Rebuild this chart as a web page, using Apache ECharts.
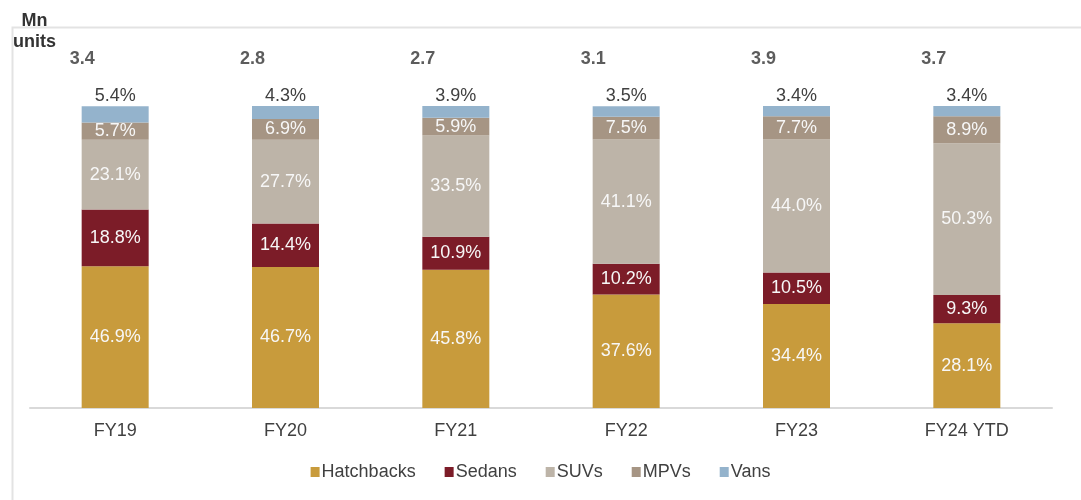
<!DOCTYPE html>
<html>
<head>
<meta charset="utf-8">
<script src="https://cdn.jsdelivr.net/npm/echarts@6/dist/echarts.min.js"></script>
<style>
    html, body { margin: 0; padding: 0; background: #fff; }
    #container { width: 1081px; height: 500px; }
</style>
</head>
<body>
<div id="container"></div>
<script>
var categories = ['FY19', 'FY20', 'FY21', 'FY22', 'FY23', 'FY24 YTD'];
var hatchbacks = [46.9, 46.7, 45.8, 37.6, 34.4, 28.1];
var sedans = [18.8, 14.4, 10.9, 10.2, 10.5, 9.3];
var suvs = [23.1, 27.7, 33.5, 41.1, 44.0, 50.3];
var mpvs = [5.7, 6.9, 5.9, 7.5, 7.7, 8.9];
var vans = [5.4, 4.3, 3.9, 3.5, 3.4, 3.4];
var totals = [3.4, 2.8, 2.7, 3.1, 3.9, 3.7];
var totalLabelLevel = 115.5;

var FONT = 'Liberation Sans, Arial, sans-serif';
var myChart = echarts.init(document.getElementById('container'));

function segment(name, data, color, top) {
    return {
        name: name,
        type: 'bar',
        stack: 'share',
        barWidth: 67,
        data: data,
        itemStyle: { color: color },
        label: {
            show: true,
            position: top ? 'top' : 'inside',
            distance: 1,
            color: top ? '#404040' : '#f7f7f7',
            fontSize: 18,
            fontFamily: FONT,
            formatter: function (p) { return p.value.toFixed(1) + '%'; }
        }
    };
}

var option = {
    animation: false,
    graphic: [
        {
            type: 'rect',
            left: 10, top: 25,
            shape: { width: 1100, height: 520 },
            style: { fill: 'none', stroke: '#e3e3e3', lineWidth: 2 },
            silent: true
        },
        {
            type: 'text',
            left: 13, top: 11,
            style: {
                text: 'Mn\nunits',
                textAlign: 'center',
                x: 23,
                fill: '#333',
                font: 'bold 18px ' + FONT,
                lineHeight: 21
            }
        }
    ],
    legend: {
        bottom: 14,
        left: 'center',
        itemWidth: 9,
        itemHeight: 10,
        itemGap: 29,
        icon: 'rect',
        textStyle: { fontSize: 18, color: '#404040', fontFamily: FONT, padding: [0, 0, 0, -3] },
        data: ['Hatchbacks', 'Sedans', 'SUVs', 'MPVs', 'Vans']
    },
    grid: { left: 30, right: 29, top: 45.6, bottom: 92 },
    xAxis: {
        type: 'category',
        data: categories,
        axisTick: { show: false },
        axisLine: { lineStyle: { color: '#d9d9d9', width: 2 } },
        axisLabel: { fontSize: 18, color: '#404040', margin: 14, fontFamily: FONT }
    },
    yAxis: {
        type: 'value',
        min: 0,
        max: 120,
        show: false,
        splitLine: { show: false }
    },
    series: [
        segment('Hatchbacks', hatchbacks, '#C89B3C'),
        segment('Sedans', sedans, '#7C1C28'),
        segment('SUVs', suvs, '#BDB4A8'),
        segment('MPVs', mpvs, '#A69584'),
        segment('Vans', vans, '#94B3CC', true),
        {
            name: 'Total',
            type: 'scatter',
            symbolSize: 0,
            clip: false,
            data: categories.map(function (c, i) { return [c, totalLabelLevel, totals[i]]; }),
            label: {
                show: true,
                position: 'inside',
                offset: [-33, 0],
                color: '#333',
                fontWeight: 'bold',
                fontSize: 18,
                fontFamily: FONT,
                formatter: function (p) { return p.value[2].toFixed(1); }
            }
        }
    ]
};
myChart.setOption(option);
</script>
</body>
</html>
